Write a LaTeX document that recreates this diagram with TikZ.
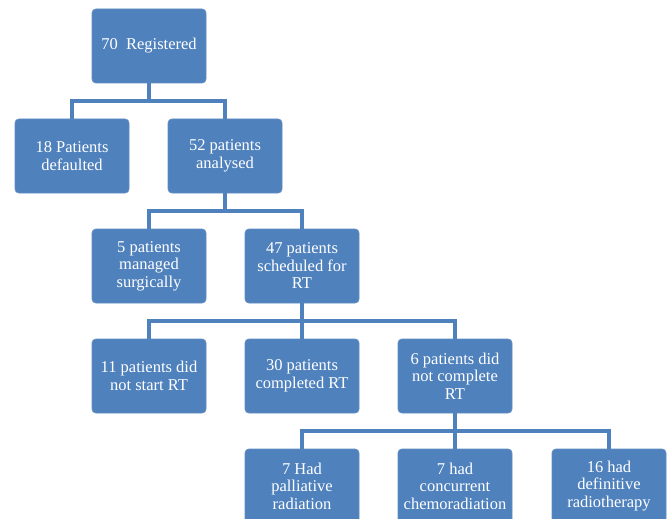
\documentclass[tikz,border=0pt]{standalone}
\usepackage{fontspec}
\setmainfont{Liberation Serif}
\usepackage{tikz}
\usetikzlibrary{positioning}

\definecolor{boxblue}{HTML}{4F81BD}

\tikzset{
    stage/.style={
        rectangle,
        rounded corners=4pt,
        fill=boxblue,
        draw=boxblue!90!white,
        line width=0.8pt,
        minimum width=114pt,
        minimum height=74pt,
        text=white,
        align=center,
        font=\fontsize{16.5}{17.5}\selectfont
    },
    bus/.style={
        -,
        draw=boxblue,
        line width=4pt
    }
}

\begin{document}
\begin{tikzpicture}[x=1pt,y=1pt]
                \useasboundingbox (0,0) rectangle (670,-519);

                % boxes
                \node[stage] (registered) at (149,-46) {70\ \ Registered};
                \node[stage] (defaulted) at (72,-156) {18 Patients\\defaulted};
                \node[stage] (analysed) at (225,-156) {52 patients\\analysed};
                \node[stage] (surgery) at (149,-266) {5 patients\\managed\\surgically};
                \node[stage] (scheduled) at (302,-266) {47 patients\\scheduled for\\RT};
                \node[stage] (nostart) at (149,-376) {11 patients did\\not start RT};
                \node[stage] (completed) at (302,-376) {30 patients\\completed RT};
                \node[stage] (incomplete) at (455,-376) {6 patients did\\not complete\\RT};
                \node[stage] (palliative) at (302,-486) {7 Had\\palliative\\radiation};
                \node[stage] (chemo) at (455,-486) {7 had\\concurrent\\chemoradiation};
                \node[stage] (definitive) at (609,-486) {16 had\\definitive\\radiotherapy};

                % connectors
                \draw[bus] (registered.south) -- ++(0,-18) -| (defaulted.north);
                \draw[bus] (registered.south) -- ++(0,-18) -| (analysed.north);

                \draw[bus] (analysed.south) -- ++(0,-18) -| (surgery.north);
                \draw[bus] (analysed.south) -- ++(0,-18) -| (scheduled.north);

                \draw[bus] (scheduled.south) -- ++(0,-18) -| (nostart.north);
                \draw[bus] (scheduled.south) -- ++(0,-18) -| (completed.north);
                \draw[bus] (scheduled.south) -- ++(0,-18) -| (incomplete.north);

                \draw[bus] (incomplete.south) -- ++(0,-18) -| (palliative.north);
                \draw[bus] (incomplete.south) -- ++(0,-18) -| (chemo.north);
                \draw[bus] (incomplete.south) -- ++(0,-18) -| (definitive.north);
\end{tikzpicture}
\end{document}
